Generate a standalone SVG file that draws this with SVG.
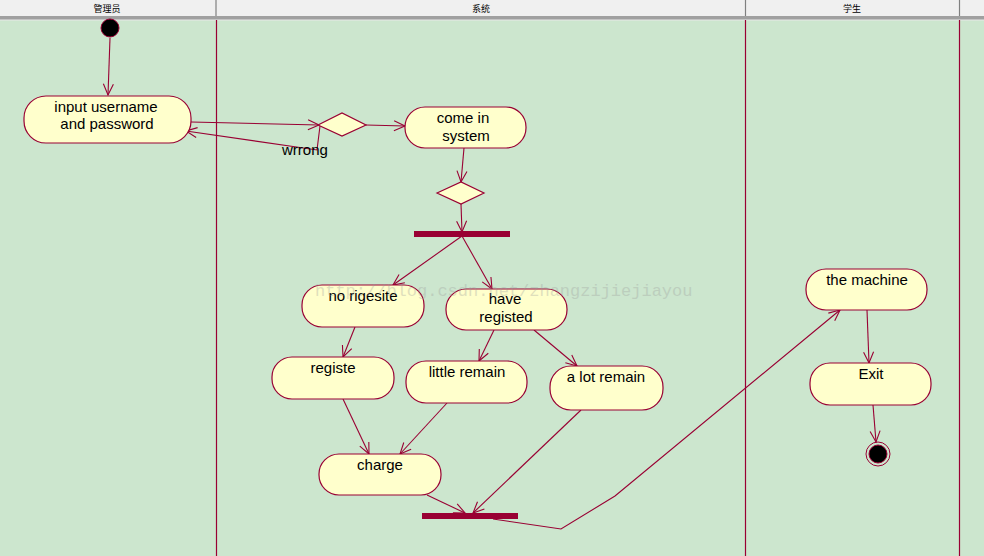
<svg xmlns="http://www.w3.org/2000/svg" width="984" height="556" viewBox="0 0 984 556">
<style>
.node rect{fill:#FFFFCC;stroke:#990033;stroke-width:1.2}
.node text{font-family:"Liberation Sans",Arial,sans-serif;font-size:15px;fill:#000;text-anchor:middle}
.dia{fill:#FFFFCC;stroke:#990033;stroke-width:1.2}
.bar{fill:#990033}
.conn path{fill:none;stroke:#990033;stroke-width:1.1}
.hdr{font-family:"Noto Sans CJK SC","Noto Sans",sans-serif;font-size:9px;fill:#000;text-anchor:middle}
.lbl{font-family:"Liberation Sans",Arial,sans-serif;font-size:15px;fill:#000}
</style>
<defs>
<marker id="arr" markerWidth="14" markerHeight="12" refX="12" refY="6" orient="auto" markerUnits="userSpaceOnUse">
<path d="M1,1 L12,6 L1,11" fill="none" stroke="#990033" stroke-width="1.1"/>
</marker>
</defs>
<rect x="0" y="0" width="984" height="556" fill="#CCE6CE"/>
<g id="header">
<rect x="0" y="0" width="984" height="17" fill="#F0F0F0"/>
<rect x="0" y="16" width="984" height="4" fill="#A0A0A0"/>
<line x1="0" y1="20" x2="984" y2="20" stroke="#E8E8E8" stroke-width="1"/>
<line x1="216" y1="0" x2="216" y2="16" stroke="#808080" stroke-width="1.2"/>
<line x1="745.5" y1="0" x2="745.5" y2="16" stroke="#808080" stroke-width="1.2"/>
<line x1="959.5" y1="0" x2="959.5" y2="16" stroke="#808080" stroke-width="1.2"/>
<text class="hdr" x="107" y="12">管理员</text>
<text class="hdr" x="481" y="12">系统</text>
<text class="hdr" x="852" y="12">学生</text>
</g>
<g id="lanes" stroke="#990033" stroke-width="1.2">
<line x1="216.5" y1="20" x2="216.5" y2="556"/>
<line x1="745.5" y1="20" x2="745.5" y2="556"/>
<line x1="959.5" y1="20" x2="959.5" y2="556"/>
</g>
<g class="conn" id="connectors">
<path d="M110,38 L108,95" marker-end="url(#arr)"/>
<path d="M191,122 L319,125" marker-end="url(#arr)"/>
<path d="M320,126 L317,150 L186,131" marker-end="url(#arr)"/>
<path d="M366,125 L405,126" marker-end="url(#arr)"/>
<path d="M464,148 L461,182" marker-end="url(#arr)"/>
<path d="M461,204 L462,232" marker-end="url(#arr)"/>
<path d="M462,236 L393,285" marker-end="url(#arr)"/>
<path d="M462,236 L492,289" marker-end="url(#arr)"/>
<path d="M355,327 L343,357" marker-end="url(#arr)"/>
<path d="M494,330 L479,361" marker-end="url(#arr)"/>
<path d="M534,330 L577,366" marker-end="url(#arr)"/>
<path d="M343,399 L369,454" marker-end="url(#arr)"/>
<path d="M447,403 L400,454" marker-end="url(#arr)"/>
<path d="M427,495 L465,513" marker-end="url(#arr)"/>
<path d="M581,410 L473,513" marker-end="url(#arr)"/>
<path d="M493,519 L561,529 L615,496 L840,310" marker-end="url(#arr)"/>
<path d="M867,310 L869,363" marker-end="url(#arr)"/>
<path d="M873,405 L876,442" marker-end="url(#arr)"/>
</g>
<text class="lbl" x="282" y="155">wrrong</text>
<g id="start"><circle cx="110" cy="28" r="9" fill="#000" stroke="#990033" stroke-width="1"/></g>
<g id="end"><circle cx="878" cy="454" r="12" fill="none" stroke="#990033" stroke-width="1"/><circle cx="878" cy="454" r="9" fill="#000" stroke="#990033" stroke-width="1"/></g>
<g id="n_input" class="node"><rect x="24" y="96" width="167" height="47" rx="22" ry="22"/><text x="106" y="112">input username</text><text x="107" y="129">and password</text></g>
<g id="d1"><polygon class="dia" points="318,125 342,113 366,125 342,136"/></g>
<g id="n_come" class="node"><rect x="405" y="107" width="121" height="41" rx="20" ry="20"/><text x="463" y="123">come in</text><text x="466" y="141">system</text></g>
<g id="d2"><polygon class="dia" points="437,193 461,182 484,193 461,204"/></g>
<g id="bar1"><rect class="bar" x="414" y="231" width="96" height="6"/></g>
<g id="n_norig" class="node"><rect x="302" y="285" width="122" height="42" rx="20" ry="20"/><text x="363" y="301">no rigesite</text></g>
<g id="n_have" class="node"><rect x="446" y="289" width="121" height="41" rx="20" ry="20"/><text x="505" y="304">have</text><text x="506" y="322">registed</text></g>
<g id="n_registe" class="node"><rect x="272" y="357" width="122" height="42" rx="20" ry="20"/><text x="333" y="373">registe</text></g>
<g id="n_little" class="node"><rect x="406" y="361" width="121" height="42" rx="20" ry="20"/><text x="467" y="377">little remain</text></g>
<g id="n_alot" class="node"><rect x="550" y="366" width="113" height="44" rx="21" ry="21"/><text x="606" y="382">a lot remain</text></g>
<g id="n_charge" class="node"><rect x="319" y="454" width="122" height="41" rx="20" ry="20"/><text x="380" y="470">charge</text></g>
<g id="bar2"><rect class="bar" x="422" y="513" width="96" height="6"/></g>
<g id="n_machine" class="node"><rect x="806" y="269" width="121" height="41" rx="20" ry="20"/><text x="867" y="285">the machine</text></g>
<g id="n_exit" class="node"><rect x="810" y="363" width="121" height="42" rx="20" ry="20"/><text x="871" y="379">Exit</text></g>
<text x="315" y="296" font-family="Liberation Mono,monospace" font-size="17" fill="#999999" opacity="0.3">http://blog.csdn.net/zhangzijiejiayou</text>
</svg>
